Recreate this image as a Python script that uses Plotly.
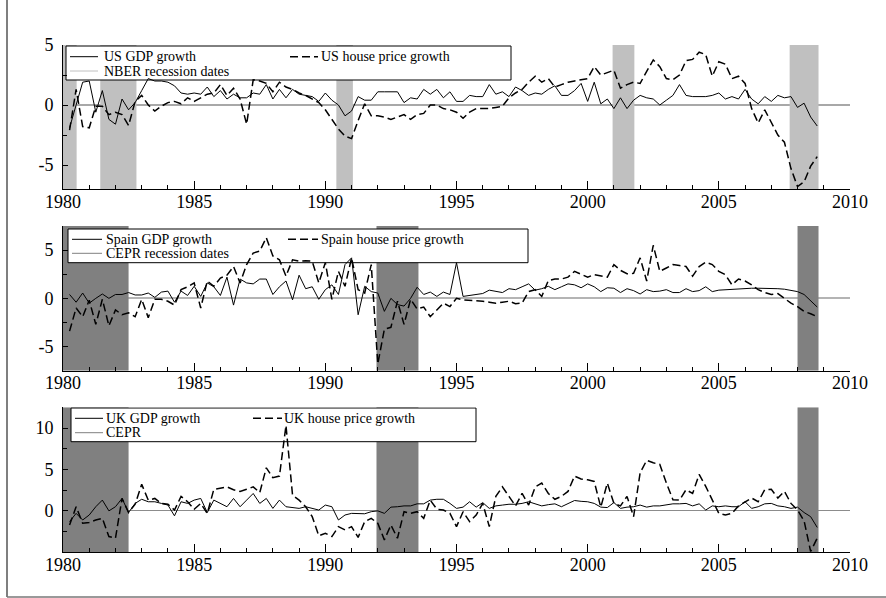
import plotly.graph_objects as go

# ---------------- data (quarterly, first observation 1980Q2) ----------------
first_quarter = 1980.25

us_gdp = [-1.9, -0.1, 1.9, 2.0, -0.6, 1.2, -1.2, -1.6, 0.5, -0.4,
          0.2, 1.2, 2.2, 2.0, 2.0, 1.9, 1.6, 1.0, 0.9, 1.0,
          0.9, 1.5, 0.7, 1.2, 0.5, 0.9, 0.6, 0.6, 1.0, 0.9,
          1.7, 0.5, 1.3, 0.6, 1.3, 0.9, 0.8, 0.7, 0.3, 1.0,
          0.4, 0.0, -0.9, -0.5, 0.7, 0.4, 0.4, 1.1, 1.1, 1.1,
          1.1, 0.2, 0.6, 0.5, 1.3, 0.9, 1.3, 0.6, 1.1, 0.3,
          0.3, 0.8, 0.7, 0.7, 1.7, 0.9, 1.1, 0.7, 1.5, 1.2,
          0.8, 1.0, 0.9, 1.3, 1.6, 0.8, 0.8, 1.2, 1.8, 0.3,
          1.9, 0.1, 0.5, -0.3, 0.6, -0.3, 0.4, 0.8, 0.6, 0.5,
          0.0, 0.4, 0.8, 1.7, 0.8, 0.7, 0.7, 0.7, 0.8, 1.0,
          0.5, 0.7, 0.5, 1.3, 0.5, 0.1, 0.7, 0.3, 0.8, 0.6,
          0.7, -0.2, 0.15, -1.0, -1.75]

us_house = [-2.1, 1.3, -1.8, -1.9, -0.1, -0.1, -0.8, -0.6, -0.8, -1.7,
            0.3, 0.8, 0.0, -0.5, -0.1, 0.2, 0.3, 0.1, 0.6, 0.3,
            0.6, 0.9, 1.0, 1.7, 0.8, 1.4, 0.5, -1.6, 2.1, 2.0,
            1.8, 1.1, 1.9, 1.5, 1.3, 1.0, 0.8, 0.5, 0.2, -0.4,
            -1.2, -2.0, -2.6, -2.8, -1.3, 0.1, -0.9, -0.9, -1.0, -1.2,
            -1.0, -0.8, -1.2, -0.8, -0.7, 0.0, 0.0, -0.3, -0.4, -0.6,
            -1.1, -0.6, -0.3, -0.3, -0.3, -0.2, -0.1, 0.6, 1.0, 1.3,
            1.9, 2.4, 1.9, 2.2, 1.5, 1.7, 1.9, 2.0, 2.1, 2.2,
            3.2, 2.5, 2.7, 2.9, 1.4, 1.7, 1.9, 1.8, 2.8, 3.75,
            3.2, 2.2, 2.1, 2.5, 3.7, 3.8, 4.4, 4.2, 2.4, 3.6,
            3.4, 2.2, 2.4, 1.8, -0.3, -1.5, -0.4, -1.4, -2.5, -3.1,
            -5.3, -6.8, -6.4, -5.1, -4.3]

spain_gdp = [0.4, -0.4, 0.55, -0.5, 0.0, 0.45, 0.0, 0.4, 0.4, 0.6,
             0.35, 0.35, 0.55, 0.1, 0.65, 0.75, -0.4, 0.75, 0.3, 1.25,
             0.2, 1.6, 1.2, 0.3, 2.2, -0.7, 2.0, 1.6, 1.5, 2.0,
             2.0, 0.4, 1.2, 1.8, -0.15, 2.4, 1.0, 1.2, -0.1, 0.9,
             1.4, 0.4, 3.5, 4.2, -1.7, 1.25, 0.7, 0.55, -1.35, 0.0,
             -0.65, -0.8, 0.0, 1.15, 0.4, 0.65, 0.2, 0.65, 0.4, 3.7,
             0.2, 0.3, 0.45, 0.5, 0.85, 0.75, 0.6, 1.0, 0.9, 1.2,
             1.5, 0.85, 1.0, 1.25, 0.9, 1.2, 1.5, 1.4, 1.1, 1.5,
             1.2, 0.7, 1.1, 1.05, 0.6, 1.0, 0.8, 0.45, 0.9, 0.7,
             0.75, 0.9, 0.6, 0.6, 1.0, 0.7, 0.8, 1.2, 0.7, 0.85,
             0.9, 0.95, 1.0, 1.0, 1.05, 1.05, 1.05, 1.0, 1.0, 0.95,
             0.85, 0.7, 0.4, -0.2, -0.9]

spain_house = [-3.4, -1.0, -1.9, -0.2, -2.7, -0.1, -2.85, -1.2, -1.7, -1.5,
               -1.9, -0.1, -2.0, -0.1, -0.1, -0.3, -0.7, 0.9, 1.2, 1.6,
               -1.0, 1.8, 1.25, 2.1, 2.4, 3.3, 1.6, 3.5, 4.7, 4.9,
               6.3, 4.4, 4.0, 2.3, 4.0, 3.85, 3.9, 3.85, 1.6, 3.7,
               -0.1, 2.8, 1.25, 4.2, 0.9, 0.55, 3.5, -6.8, -3.2, -3.0,
               -0.3, -2.7, -0.1, -1.1, -0.9, -1.9, -1.2, -0.5, -0.85, 0.0,
               -0.15, -0.2, -0.2, -0.3, -0.4, -0.5, -0.4, -0.3, -0.55, -0.5,
               0.7, 0.9, 0.2, 1.85, 2.0, 2.0, 2.2, 2.8, 2.5, 2.2,
               2.45, 2.3, 2.2, 3.5, 2.9, 2.55, 2.6, 4.2, 1.8, 5.5,
               2.8, 3.15, 3.5, 3.4, 3.3, 2.3, 3.3, 3.75, 3.5, 2.8,
               2.45, 1.4, 2.0, 1.8, 1.4, 0.9, 0.6, 0.4, 0.5, 0.0,
               -0.5, -0.85, -1.35, -1.6, -1.9]

uk_gdp = [-1.3, -0.3, -1.1, -0.5, 0.5, 1.3, 0.0, 0.5, 1.5, -0.2,
          0.9, 1.4, 1.1, 1.1, 0.9, 0.7, -0.6, 1.1, 0.9, 1.3,
          1.5, -0.2, 1.3, 0.9, 0.5, 1.5, 0.5, 1.3, 2.1, 0.9,
          1.5, 0.3, 1.3, 0.5, 0.4, 0.3, 0.5, 0.3, 0.1, 0.7,
          0.5, -1.1, -0.5, -0.3, -0.3, -0.35, -0.1, 0.0, -0.3, 0.45,
          0.5, 0.6, 0.6, 0.85, 0.85, 1.3, 1.4, 1.4, 0.9, 0.3,
          0.45, 1.1, 0.45, 1.0, 0.3, 0.6, 0.7, 0.8, 0.8, 0.9,
          1.1, 0.85, 0.6, 0.75, 0.85, 0.5, 0.9, 1.25, 1.15, 1.1,
          0.9, 0.45, 0.4, 1.0, 0.3, 0.45, 0.5, 0.7, 0.45, 0.6,
          0.6, 0.7, 0.85, 0.85, 0.9, 0.6, 0.85, 0.1, 0.6, 0.5,
          0.6, 0.5, 0.5, 1.1, 0.3, 0.5, 0.85, 0.9, 0.6, 0.5,
          0.3, 0.45, -0.2, -0.7, -2.0]

uk_house = [-1.7, 0.5, -1.5, -1.4, -1.1, -0.9, -3.1, -3.3, 1.5, -0.2,
            0.8, 3.2, 1.3, 1.5, 0.9, 0.8, 0.1, 1.75, 1.1, 0.2,
            0.9, -0.3, 2.6, 2.75, 2.9, 2.55, 2.35, 2.6, 2.9, 2.2,
            5.2, 4.0, 4.2, 10.3, 1.9, 1.3, 0.5, -0.7, -3.0, -2.7,
            -3.1, -1.9, -2.3, -1.9, -3.2, -1.3, -0.9, -1.5, -3.5, -1.7,
            -3.3, -0.1, -0.3, -0.1, -0.9, 1.3, 0.2, 0.1, -0.3, -1.9,
            -0.1, -1.3, -0.5, 0.9, -1.9, 1.75, 2.9, 1.75, 0.6, 2.1,
            0.7, 2.9, 3.35, 2.1, 1.4, 1.75, 2.35, 4.2, 3.85, 3.75,
            3.55, 0.45, 3.35, 0.9, 0.6, 1.75, -0.7, 4.6, 6.1, 5.8,
            5.6, 3.35, 1.35, 1.3, 2.55, 2.1, 4.4, 2.95, 1.35, -0.3,
            -0.5, -0.3, 0.6, 1.1, 1.55, 1.1, 2.55, 2.6, 1.55, 2.35,
            0.9, 0.1, -1.2, -4.9, -3.3]

nber_recessions = [(1980.0, 1980.52), (1981.42, 1982.8), (1990.42, 1991.05),
                   (2000.95, 2001.78), (2007.7, 2008.8)]
cepr_recessions = [(1980.0, 1982.5), (1991.95, 1993.55), (2008.0, 2008.8)]

panel_labels = [
    ("US GDP growth", "US house price growth", "NBER recession dates"),
    ("Spain GDP growth", "Spain house price growth", "CEPR recession dates"),
    ("UK GDP growth", "UK house price growth", "CEPR"),
]
year_ticks = [1980, 1985, 1990, 1995, 2000, 2005, 2010]

# ---------------- layout geometry ----------------
W, H = 886, 598
X0PX, X1PX = 63, 850
YR0, YR1 = 1980, 2010
FONT = "Liberation Serif, Times New Roman, serif"

panels = [
    dict(top=45, bot=189, yrange=[-7, 5], ticks=[-5, 0, 5], minor=[-2.5, 2.5],
         shade="#c0c0c0", rec=nber_recessions, recline="#c0c0c0", zero="#a8a8a8", zw=1.5,
         gdp=us_gdp, house=us_house,
         box=(66, 511, 46, 80), s1=(70, 98), s2=(290, 318), r1=56.7, r2=71, t1=104, t2=321),
    dict(top=226, bot=370.7, yrange=[-7.5, 7.5], ticks=[-5, 0, 5], minor=[-2.5, 2.5],
         shade="#808080", rec=cepr_recessions, recline="#808080", zero="#b4b4b4", zw=1.5,
         gdp=spain_gdp, house=spain_house,
         box=(68, 528, 229, 262.7), s1=(72, 102), s2=(288, 318), r1=239.3, r2=253.3, t1=106, t2=321),
    dict(top=407.3, bot=552.3, yrange=[-5, 12.5], ticks=[0, 5, 10], minor=[-2.5, 2.5, 7.5],
         shade="#808080", rec=cepr_recessions, recline="#808080", zero="#8c8c8c", zw=1,
         gdp=uk_gdp, house=uk_house,
         box=(71, 476, 408, 441.7), s1=(75, 103), s2=(253, 282), r1=418.3, r2=432.7, t1=106, t2=284),
]


def xdata(px):
    return YR0 + (YR1 - YR0) * (px - X0PX) / (X1PX - X0PX)


def ydata(py, p):
    lo, hi = p["yrange"]
    return lo + (hi - lo) * (p["bot"] - py) / (p["bot"] - p["top"])


fig = go.Figure()
shapes = []
annotations = []

for k, p in enumerate(panels, start=1):
    xa = "x" if k == 1 else f"x{k}"
    ya = "y" if k == 1 else f"y{k}"
    n = len(p["gdp"])
    xs = [first_quarter + 0.25 * i for i in range(n)]
    fig.add_trace(go.Scatter(x=xs, y=p["gdp"], mode="lines", xaxis=xa, yaxis=ya,
                             line=dict(color="black", width=1), showlegend=False,
                             name=panel_labels[k - 1][0]))
    fig.add_trace(go.Scatter(x=xs, y=p["house"], mode="lines", xaxis=xa, yaxis=ya,
                             line=dict(color="black", width=1.5, dash="8px,4px"),
                             showlegend=False, name=panel_labels[k - 1][1]))

    lo, hi = p["yrange"]
    # recession shading
    for a, b in p["rec"]:
        shapes.append(dict(type="rect", xref=xa, yref=ya, x0=a, x1=b, y0=lo, y1=hi,
                           fillcolor=p["shade"], line=dict(width=0), layer="between"))
    # legend box
    bx0, bx1, by0, by1 = p["box"]
    shapes.append(dict(type="rect", xref=xa, yref=ya,
                       x0=xdata(bx0), x1=xdata(bx1), y0=ydata(by1, p), y1=ydata(by0, p),
                       fillcolor="white", line=dict(color="black", width=1), layer="between"))
    # legend samples
    shapes.append(dict(type="line", xref=xa, yref=ya,
                       x0=xdata(p["s1"][0]), x1=xdata(p["s1"][1]),
                       y0=ydata(p["r1"], p), y1=ydata(p["r1"], p),
                       line=dict(color="black", width=1), layer="between"))
    shapes.append(dict(type="line", xref=xa, yref=ya,
                       x0=xdata(p["s1"][0]), x1=xdata(p["s1"][1]),
                       y0=ydata(p["r2"], p), y1=ydata(p["r2"], p),
                       line=dict(color=p["recline"], width=1), layer="between"))
    shapes.append(dict(type="line", xref=xa, yref=ya,
                       x0=xdata(p["s2"][0]), x1=xdata(p["s2"][1]),
                       y0=ydata(p["r1"], p), y1=ydata(p["r1"], p),
                       line=dict(color="black", width=1.5, dash="8px,4px"), layer="between"))
    lab = panel_labels[k - 1]
    for txt, tx, ty in [(lab[0], p["t1"], p["r1"]), (lab[1], p["t2"], p["r1"]), (lab[2], p["t1"], p["r2"])]:
        annotations.append(dict(text=txt, xref="paper", yref="paper", x=(tx - 2) / W, y=1 - ty / H,
                                xanchor="left", yanchor="middle", showarrow=False,
                                font=dict(family=FONT, size=14, color="black")))

    dom = [1 - p["bot"] / H, 1 - p["top"] / H]
    fig.update_layout(**{
        ("xaxis" if k == 1 else f"xaxis{k}"): dict(
            domain=[X0PX / W, X1PX / W], range=[YR0, YR1], anchor=ya, automargin=False,
            tickmode="array", tickvals=year_ticks, ticktext=[str(t) for t in year_ticks],
            ticks="inside", ticklen=8, tickwidth=1, tickcolor="black",
            minor=dict(tickmode="linear", tick0=1980, dtick=1, ticks="inside", ticklen=4,
                       tickcolor="black", showgrid=False),
            showline=True, linecolor="black", linewidth=1, showgrid=False, zeroline=False,
            tickfont=dict(family=FONT, size=18, color="black"), ticklabelstandoff=-4,
        ),
        ("yaxis" if k == 1 else f"yaxis{k}"): dict(
            domain=dom, range=p["yrange"], anchor=xa, automargin=False,
            tickmode="array", tickvals=p["ticks"], ticktext=[str(t) for t in p["ticks"]],
            ticks="inside", ticklen=5, tickwidth=1, tickcolor="black",
            minor=dict(tickmode="array", tickvals=p["minor"], ticks="inside", ticklen=4,
                       tickcolor="black", showgrid=False),
            showline=True, linecolor="black", linewidth=1, showgrid=False,
            zeroline=True, zerolinecolor=p["zero"], zerolinewidth=p["zw"],
            tickfont=dict(family=FONT, size=18, color="black"), ticklabelstandoff=5,
        ),
    })

# outer frame (left and bottom edges visible)
shapes.append(dict(type="line", xref="paper", yref="paper", x0=7 / W, x1=7 / W, y0=1 - 597 / H, y1=1,
                   line=dict(color="#555555", width=1.5), layer="above"))
shapes.append(dict(type="line", xref="paper", yref="paper", x0=7 / W, x1=1, y0=1 - 597 / H, y1=1 - 597 / H,
                   line=dict(color="#777777", width=1.5), layer="above"))

fig.update_layout(width=W, height=H, margin=dict(l=0, r=0, t=0, b=0, pad=0, autoexpand=False),
                  paper_bgcolor="white", plot_bgcolor="white",
                  shapes=shapes, annotations=annotations, showlegend=False,
                  font=dict(family=FONT, color="black"))

fig.write_html("out.html")
